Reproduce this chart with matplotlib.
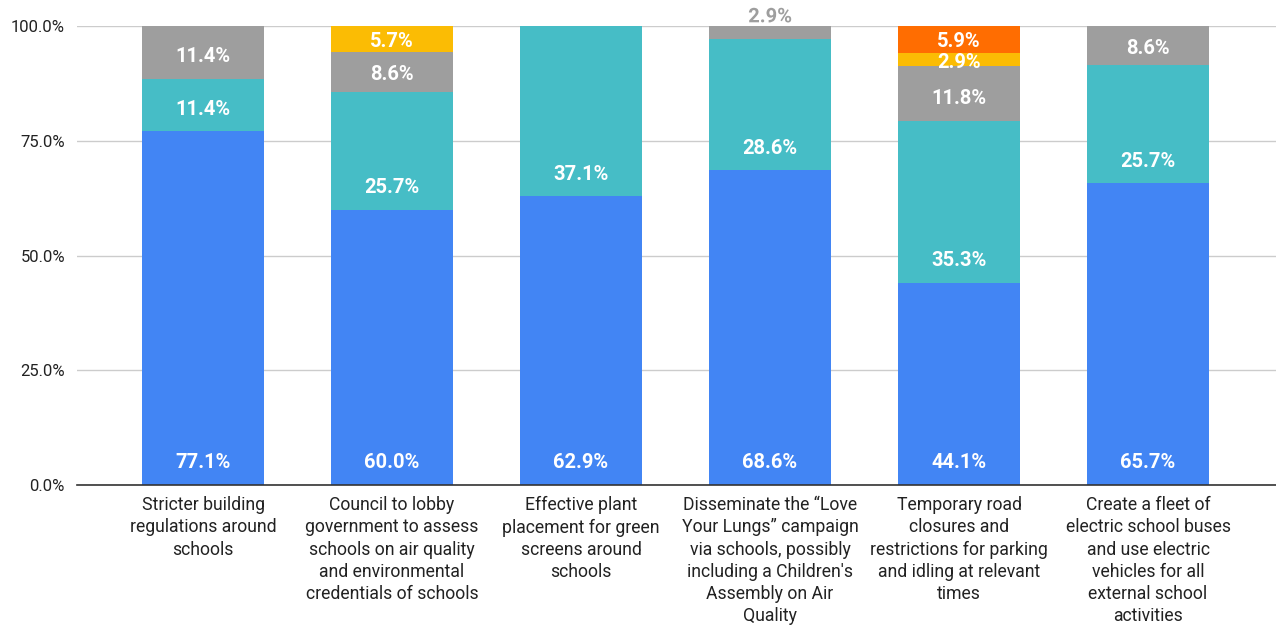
import matplotlib.pyplot as plt
import matplotlib.patheffects as pe
import numpy as np

plt.rcParams['font.family'] = ['Roboto', 'DejaVu Sans']

categories = [
    "Stricter building\nregulations around\nschools",
    "Council to lobby\ngovernment to assess\nschools on air quality\nand environmental\ncredentials of schools",
    "Effective plant\nplacement for green\nscreens around\nschools",
    "Disseminate the \u201cLove\nYour Lungs\u201d campaign\nvia schools, possibly\nincluding a Children's\nAssembly on Air\nQuality",
    "Temporary road\nclosures and\nrestrictions for parking\nand idling at relevant\ntimes",
    "Create a fleet of\nelectric school buses\nand use electric\nvehicles for all\nexternal school\nactivities",
]

blue = [77.1, 60.0, 62.9, 68.6, 44.1, 65.7]
teal = [11.4, 25.7, 37.1, 28.6, 35.3, 25.7]
grey = [11.4, 8.6, 0.0, 2.9, 11.8, 8.6]
yellow = [0.0, 5.7, 0.0, 0.0, 2.9, 0.0]
orange = [0.0, 0.0, 0.0, 0.0, 5.9, 0.0]

series = [blue, teal, grey, yellow, orange]
colors = ["#4285F4", "#46BDC6", "#9E9E9E", "#FBBC04", "#FF6D01"]

yticks = [0, 25, 50, 75, 100]
ytick_labels = ["0.0%", "25.0%", "50.0%", "75.0%", "100.0%"]

fig = plt.figure(figsize=(12.76, 6.26), dpi=100)
ax = fig.add_axes([0.0603, 0.2252, 0.9397, 0.7333])

x = np.arange(len(categories))
bottom = np.zeros(len(categories))
for k, (vals, col) in enumerate(zip(series, colors)):
    vals = np.array(vals)
    ax.bar(x, vals, bottom=bottom, width=0.642, color=col, zorder=3)
    for i, v in enumerate(vals):
        if v <= 0:
            continue
        b = bottom[i]
        top = b + v
        # topmost segment too thin -> label sits above the bar
        above = sum(s[i] for s in series[k + 1:]) == 0
        if above and v < 3.5:
            ax.text(i, top + 1.9, f"{v:.1f}%", ha='center', va='center',
                    fontsize=14.5, fontweight='bold', color='#9E9E9E', zorder=5,
                    path_effects=[pe.withStroke(linewidth=3, foreground='white')])
        else:
            y = min(b + 4.8, (b + top) / 2 - 0.5)
            ax.text(i, y, f"{v:.1f}%", ha='center', va='center',
                    fontsize=14.5, fontweight='bold', color='white', zorder=5)
    bottom += vals

ax.set_xlim(-0.667, 5.677)
ax.set_ylim(0, 100)
ax.set_yticks(yticks)
ax.set_yticklabels(ytick_labels, fontsize=12, color='#222222')
ax.set_xticks(x)
ax.set_xticklabels(categories, fontsize=12.7, color='#222222', linespacing=1.3, va='top')
ax.tick_params(axis='both', length=0)
ax.tick_params(axis='x', pad=8)
ax.tick_params(axis='y', pad=8.6)

ax.grid(axis='y', color='#CCCCCC', linewidth=1, zorder=0)
for s in ['top', 'right', 'left']:
    ax.spines[s].set_visible(False)
ax.spines['bottom'].set_color('#333333')
ax.spines['bottom'].set_linewidth(1.2)
ax.spines['bottom'].set_zorder(4)

plt.savefig("out.png", dpi=100)
